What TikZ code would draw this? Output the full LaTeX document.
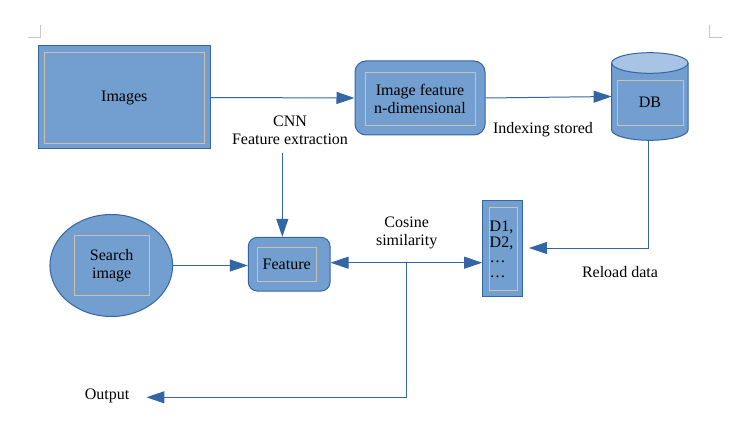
\documentclass[tikz,border=0pt]{standalone}
\usepackage{fontspec}
\setmainfont{Liberation Serif}
\usetikzlibrary{arrows.meta,shapes.geometric}
\definecolor{boxfill}{HTML}{729FCF}
\definecolor{boxline}{HTML}{3465A4}
\definecolor{capfill}{HTML}{A7C4E5}
\definecolor{innerline}{HTML}{C9C2B4}
\definecolor{marks}{HTML}{C8C8C8}
\tikzset{
  txt/.style={font=\fontsize{16}{18}\selectfont, text=black, align=center, inner sep=0pt},
  outerbox/.style={draw=boxline, fill=boxfill, line width=1pt, inner sep=0pt},
  innerbox/.style={draw=innerline, line width=0.9pt, inner sep=0pt, txt},
  conn/.style={draw=boxline, line width=1pt},
  arr/.style={conn, -{Triangle[length=18pt,width=12pt]}},
}
\begin{document}
\begin{tikzpicture}[x=1pt,y=-1pt]
\useasboundingbox (0,0) rectangle (740,444);
% page corner marks
\draw[marks, line width=1pt] (27.5,37.7) -- (40,37.7) -- (40,25);
\draw[marks, line width=1pt] (709,25) -- (709,37.7) -- (722,37.7);

% Images
\node[outerbox, rectangle, minimum width=171.7pt, minimum height=103pt] (images) at (124.3,97.5) {};
\node[innerbox, minimum width=160pt, minimum height=91pt] (imagesin) at (124.3,97.5) {Images};

% Image feature
\node[outerbox, rectangle, rounded corners=11pt, minimum width=130pt, minimum height=74pt] (ifeat) at (420,98) {};
\node[innerbox, minimum width=110pt, minimum height=53pt] (ifeatin) at (420,98.5) {Image feature\\n-dimensional};

% DB cylinder
\node[minimum width=76.3pt, minimum height=87.3pt, inner sep=0pt] (db) at (650,96.5) {};
\fill[boxfill] (611.7,63) -- (611.7,130) arc[start angle=180, end angle=360, x radius=38.15pt, y radius=10.3pt] -- (688,63) -- cycle;
\draw[boxline, line width=1pt] (611.7,63) -- (611.7,130) arc[start angle=180, end angle=360, x radius=38.15pt, y radius=10.3pt] -- (688,63);
\draw[boxline, fill=capfill, line width=1pt] (649.85,63) ellipse[x radius=38.15pt, y radius=10.3pt];
\node[innerbox, minimum width=66pt, minimum height=45pt] (dbin) at (650,102.5) {DB};

% Search image
\node[outerbox, ellipse, minimum width=122.7pt, minimum height=102pt] (search) at (111.3,265.5) {};
\node[innerbox, minimum width=74.7pt, minimum height=60.3pt] (searchin) at (111.7,265.2) {Search\\image};

% Feature
\node[outerbox, rectangle, rounded corners=9pt, minimum width=81.7pt, minimum height=53.7pt] (feat) at (289.2,264.2) {};
\node[innerbox, minimum width=58.7pt, minimum height=34.4pt] (featin) at (286.7,264.5) {Feature};

% D box
\node[outerbox, rectangle, minimum width=40.3pt, minimum height=96pt] (dbox) at (502.8,248) {};
\node[innerbox, minimum width=28.7pt, minimum height=83pt] (dboxin) at (503.3,249.2) {};
\node[txt, align=left, anchor=north west, font=\fontsize{16}{15.4}\selectfont] (dlist) at (489.5,221) {D1,\\D2,\\\dots\\\dots};

% labels
\node[txt] (cnn) at (290,130.5) {CNN\\Feature extraction};
\node[txt] (cosine) at (406.7,233) {Cosine\\similarity};
\node[txt] (index) at (543,130) {Indexing stored};
\node[txt] (reload) at (620,271.7) {Reload data};
\node[txt] (output) at (107,396) {Output};

% connectors
\coordinate (cnnfoot) at (282.3,152.7);
\coordinate (mid) at (406.7,262.7);
\coordinate (turn) at (406.7,397.3);
\draw[arr] (images.east) -- (ifeat.west);
\draw[arr] (ifeat.east) -- (db.west);
\draw[arr] (cnnfoot) -- (feat.north -| cnnfoot);
\draw[arr] (search.east) -- (feat.west |- search.east);
\draw[arr] (mid) -- (feat.east |- mid);
\draw[arr] (mid) -- (dbox.west |- mid);
\draw[conn] (mid) -- (turn);
\draw[arr] (turn) -- ([xshift=17pt]output.east |- turn);
\draw[arr, shorten >=5.5pt] ([xshift=-2pt]db.south) |- (dbox.east);
\end{tikzpicture}
\end{document}
